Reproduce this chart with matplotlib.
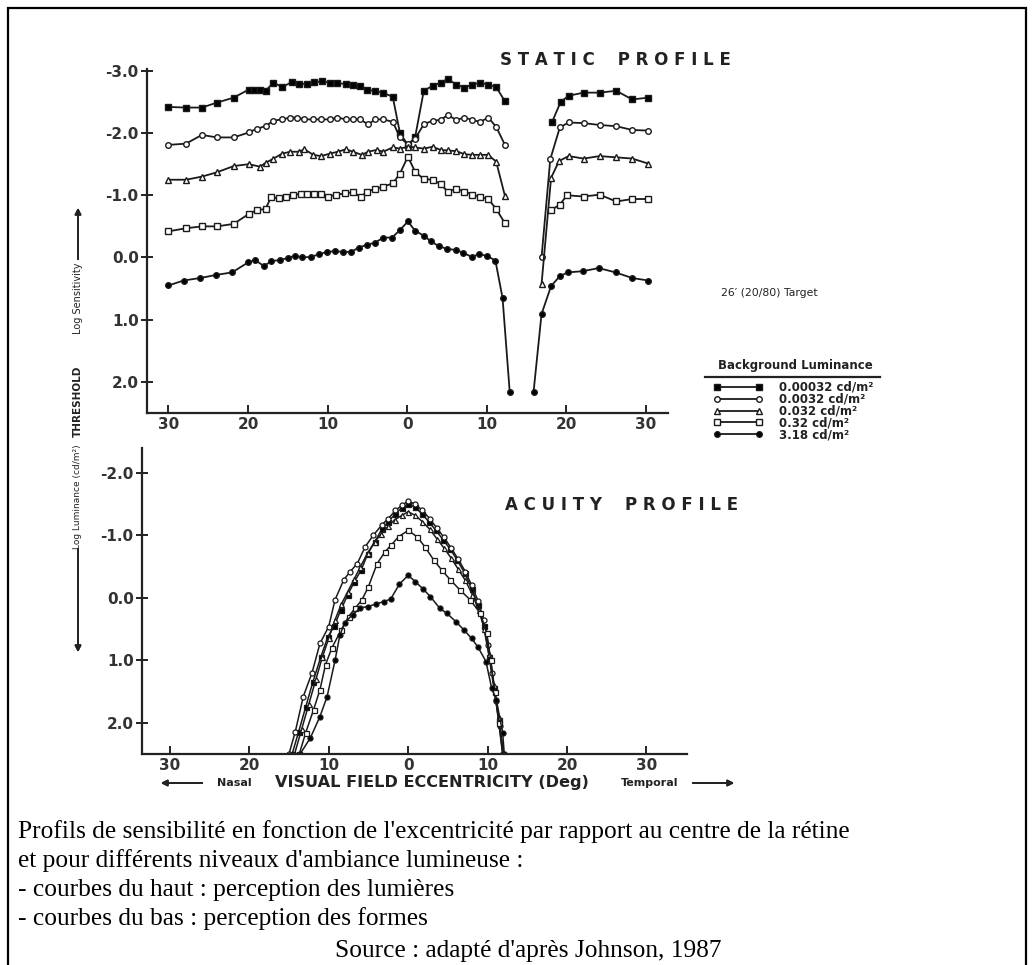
import numpy as np
import matplotlib.pyplot as plt
from matplotlib.lines import Line2D
from matplotlib.patches import Rectangle

plt.rcParams['axes.unicode_minus'] = False

# ---- STATIC PROFILE (top) : nasal side is negative, temporal positive ----
# background luminance 0.00032 cd/m2 (filled squares)
s1_x = [-30.0, -27.8, -25.8, -23.9, -21.8, -19.9, -19.3, -18.5, -17.8, -16.8, -15.7, -14.5, -13.6,
        -12.6, -11.7, -10.7, -9.7, -8.8, -7.7, -6.8, -5.9, -5.0, -4.0, -3.0, -1.8, -0.9, 0.1, 1.0,
        2.1, 3.2, 4.2, 5.1, 6.2, 7.2, 8.2, 9.2, 10.2, 11.2, 12.3]
s1_y = [-2.42, -2.41, -2.41, -2.49, -2.57, -2.70, -2.70, -2.70, -2.68, -2.81, -2.74, -2.82, -2.79,
        -2.79, -2.82, -2.83, -2.81, -2.80, -2.79, -2.77, -2.76, -2.70, -2.67, -2.65, -2.58, -2.00,
        -1.81, -1.93, -2.68, -2.76, -2.81, -2.87, -2.78, -2.73, -2.78, -2.81, -2.78, -2.74, -2.51]
s1_xr = [18.2, 19.3, 20.3, 22.2, 24.2, 26.3, 28.3, 30.3]
s1_yr = [-2.17, -2.50, -2.60, -2.65, -2.65, -2.68, -2.54, -2.57]

# 0.0032 cd/m2 (open circles)
s2_x = [-30.0, -27.8, -25.8, -23.9, -21.8, -19.9, -18.9, -17.8, -16.8, -15.7, -14.7, -13.8, -12.9,
        -11.8, -10.8, -9.7, -8.8, -7.7, -6.8, -5.9, -4.9, -4.0, -3.0, -1.8, -0.9, 0.1, 1.0, 2.1,
        3.2, 4.2, 5.1, 6.2, 7.2, 8.2, 9.2, 10.2, 11.2, 12.3]
s2_y = [-1.81, -1.83, -1.97, -1.93, -1.93, -2.01, -2.07, -2.11, -2.20, -2.22, -2.25, -2.25, -2.22,
        -2.22, -2.22, -2.22, -2.25, -2.22, -2.22, -2.22, -2.14, -2.22, -2.22, -2.18, -1.93, -1.82,
        -1.91, -2.14, -2.20, -2.21, -2.29, -2.21, -2.25, -2.21, -2.18, -2.25, -2.10, -1.81]
s2_xr = [16.9, 18.0, 19.2, 20.3, 22.2, 24.2, 26.3, 28.3, 30.3]
s2_yr = [0.0, -1.58, -2.09, -2.17, -2.16, -2.13, -2.11, -2.05, -2.04]

# 0.032 cd/m2 (open triangles)
s3_x = [-30.0, -27.8, -25.8, -23.9, -21.8, -19.9, -18.5, -17.8, -16.8, -15.7, -14.7, -13.6, -12.9,
        -11.8, -10.8, -9.7, -8.7, -7.7, -6.8, -5.7, -4.9, -3.8, -3.0, -1.8, -0.9, 0.1, 1.0, 2.1,
        3.2, 4.2, 5.1, 6.2, 7.2, 8.2, 9.2, 10.2, 11.2, 12.3]
s3_y = [-1.25, -1.25, -1.30, -1.37, -1.47, -1.50, -1.46, -1.52, -1.59, -1.67, -1.70, -1.70, -1.74,
        -1.65, -1.63, -1.67, -1.70, -1.74, -1.70, -1.65, -1.70, -1.73, -1.70, -1.77, -1.75, -1.78,
        -1.77, -1.75, -1.78, -1.73, -1.72, -1.71, -1.66, -1.65, -1.65, -1.65, -1.54, -0.99]
s3_xr = [16.9, 18.1, 19.1, 20.3, 22.2, 24.2, 26.3, 28.3, 30.3]
s3_yr = [0.43, -1.28, -1.55, -1.63, -1.59, -1.63, -1.61, -1.59, -1.51]

# 0.32 cd/m2 (open squares)
s4_x = [-30.0, -27.8, -25.8, -23.9, -21.8, -19.9, -18.9, -17.8, -17.1, -16.1, -15.2, -14.3, -13.4,
        -12.6, -11.7, -10.8, -9.9, -8.9, -7.8, -6.8, -5.8, -5.1, -4.0, -3.0, -1.8, -0.9, 0.1, 1.0,
        2.1, 3.2, 4.2, 5.1, 6.2, 7.2, 8.2, 9.2, 10.2, 11.2, 12.3]
s4_y = [-0.42, -0.47, -0.50, -0.50, -0.54, -0.70, -0.76, -0.78, -0.97, -0.95, -0.98, -1.01, -1.02,
        -1.02, -1.02, -1.02, -0.98, -1.01, -1.03, -1.05, -0.97, -1.06, -1.10, -1.14, -1.19, -1.35,
        -1.62, -1.38, -1.26, -1.25, -1.18, -1.06, -1.10, -1.06, -1.01, -0.97, -0.94, -0.78, -0.55]
s4_xr = [18.1, 19.2, 20.1, 22.2, 24.2, 26.3, 28.3, 30.3]
s4_yr = [-0.76, -0.85, -1.00, -0.98, -1.01, -0.90, -0.94, -0.94]

# 3.18 cd/m2 (filled circles)
s5_x = [-30.0, -28.1, -26.0, -24.0, -22.0, -20.0, -19.1, -18.0, -17.1, -16.0, -15.0, -14.1, -13.2,
        -12.1, -11.1, -10.1, -9.1, -8.0, -7.0, -6.1, -5.1, -4.0, -3.0, -1.9, -0.9, 0.1, 1.0, 2.1,
        3.0, 4.0, 5.0, 6.1, 7.0, 8.1, 9.0, 10.0, 11.1, 12.0, 12.9]
s5_y = [0.45, 0.37, 0.33, 0.28, 0.24, 0.08, 0.04, 0.14, 0.06, 0.04, 0.01, -0.03, 0.00, -0.01, -0.05,
        -0.09, -0.10, -0.09, -0.09, -0.16, -0.20, -0.24, -0.32, -0.32, -0.44, -0.58, -0.43, -0.35,
        -0.26, -0.18, -0.14, -0.12, -0.08, -0.01, -0.05, -0.03, 0.05, 0.65, 2.16]
s5_xr = [15.9, 16.9, 18.1, 19.2, 20.2, 22.1, 24.1, 26.2, 28.3, 30.3]
s5_yr = [2.16, 0.91, 0.46, 0.30, 0.24, 0.22, 0.17, 0.24, 0.33, 0.37]

# ---- ACUITY PROFILE (bottom) ----
a1_x = [-14.6, -13.8, -12.9, -12.0, -11.0, -10.1, -9.3, -8.5, -7.6, -6.8, -5.9, -5.1, -4.2, -3.3,
        -2.5, -1.6, -0.8, 0.0, 0.9, 1.7, 2.6, 3.5, 4.4, 5.3, 6.2, 7.1, 8.0, 8.8, 9.5, 10.2, 10.8,
        11.4, 12.0]
a1_y = [2.5, 2.15, 1.75, 1.35, 0.95, 0.62, 0.45, 0.2, -0.05, -0.25, -0.45, -0.7, -0.9, -1.1, -1.22,
        -1.35, -1.44, -1.50, -1.45, -1.35, -1.22, -1.08, -0.93, -0.78, -0.6, -0.4, -0.15, 0.12, 0.45,
        0.95, 1.45, 1.95, 2.5]
a2_x = [-15.0, -14.2, -13.2, -12.1, -11.1, -10.0, -9.2, -8.1, -7.3, -6.4, -5.4, -4.4, -3.3, -2.5,
        -1.6, -0.8, 0.0, 0.9, 1.8, 2.7, 3.6, 4.5, 5.4, 6.3, 7.2, 8.0, 8.8, 9.5, 10.1, 10.6, 11.1,
        11.5, 11.9]
a2_y = [2.5, 2.14, 1.58, 1.2, 0.73, 0.46, 0.03, -0.29, -0.42, -0.55, -0.82, -1.0, -1.17, -1.27,
        -1.4, -1.48, -1.55, -1.5, -1.4, -1.27, -1.12, -0.97, -0.8, -0.62, -0.42, -0.2, 0.05, 0.35,
        0.75, 1.2, 1.65, 2.05, 2.5]
a3_x = [-14.3, -13.4, -12.5, -11.6, -10.8, -10.0, -9.2, -8.4, -7.6, -6.8, -6.0, -5.1, -4.2, -3.4,
        -2.5, -1.7, -0.8, 0.0, 0.9, 1.8, 2.7, 3.6, 4.5, 5.4, 6.3, 7.2, 8.1, 8.9, 9.6, 10.2, 10.8,
        11.4, 12.0]
a3_y = [2.5, 2.1, 1.7, 1.3, 0.95, 0.65, 0.35, 0.1, -0.1, -0.3, -0.5, -0.72, -0.9, -1.02, -1.15,
        -1.25, -1.32, -1.38, -1.32, -1.22, -1.1, -0.95, -0.8, -0.64, -0.46, -0.28, -0.05, 0.2, 0.5,
        0.9, 1.4, 1.9, 2.5]
a4_x = [-13.7, -12.9, -11.9, -11.1, -10.4, -9.6, -8.4, -7.5, -6.7, -5.8, -5.0, -3.9, -2.9, -2.1,
        -1.2, 0.0, 1.1, 2.1, 3.2, 4.2, 5.3, 6.5, 7.8, 9.1, 9.9, 10.4, 10.9, 11.4, 11.9]
a4_y = [2.5, 2.16, 1.79, 1.47, 1.07, 0.8, 0.51, 0.3, 0.17, 0.03, -0.18, -0.55, -0.74, -0.85, -0.98,
        -1.08, -0.98, -0.82, -0.61, -0.45, -0.29, -0.13, 0.03, 0.25, 0.57, 1.0, 1.5, 2.0, 2.5]
a5_x = [-13.6, -12.3, -11.1, -10.2, -9.2, -8.6, -8.0, -7.0, -6.0, -5.1, -4.1, -3.1, -2.2, -1.1, 0.0,
        0.9, 1.9, 2.8, 4.0, 4.9, 6.0, 7.0, 8.0, 8.8, 9.8, 10.5, 11.1, 11.9, 12.1]
a5_y = [2.5, 2.24, 1.9, 1.58, 1.0, 0.6, 0.4, 0.27, 0.16, 0.14, 0.1, 0.06, 0.02, -0.22, -0.36, -0.26,
        -0.14, -0.02, 0.17, 0.25, 0.38, 0.51, 0.65, 0.79, 1.02, 1.44, 1.63, 2.16, 2.5]

lum_labels = ["0.00032 cd/m²", "0.0032 cd/m²", "0.032 cd/m²", "0.32 cd/m²", "3.18 cd/m²"]
y_ticks = [-3.0, -2.0, -1.0, 0.0, 1.0, 2.0]
x_ticks = [-30, -20, -10, 0, 10, 20, 30]

caption = ["Profils de sensibilité en fonction de l'excentricité par rapport au centre de la rétine",
           "et pour différents niveaux d'ambiance lumineuse :",
           "- courbes du haut : perception des lumières",
           "- courbes du bas : perception des formes"]
source = "Source : adapté d'après Johnson, 1987"

# marker style per luminance
styles = [dict(marker='s', mfc='black'), dict(marker='o', mfc='white'),
          dict(marker='^', mfc='white'), dict(marker='s', mfc='white'),
          dict(marker='o', mfc='black')]

W, H = 1034, 965
fig = plt.figure(figsize=(W / 100, H / 100), dpi=100)

def px(x0, y0, x1, y1):
    return [x0 / W, 1 - y1 / H, (x1 - x0) / W, (y1 - y0) / H]

ax1 = fig.add_axes(px(147, 69, 668, 413))
ax2 = fig.add_axes(px(142, 448, 687, 754))

def style_axis(ax, xlim, ylim):
    ax.set_xlim(*xlim)
    ax.set_ylim(*ylim)
    for s in ['top', 'right']:
        ax.spines[s].set_visible(False)
    for s in ['left', 'bottom']:
        ax.spines[s].set_linewidth(1.6)
        ax.spines[s].set_color('#222222')
    ax.set_yticks(y_ticks[1:] if ylim[1] > -3 else y_ticks)
    ax.set_yticklabels([f"{v:.1f}" for v in ax.get_yticks()])
    ax.set_xticks(x_ticks)
    ax.set_xticklabels([str(abs(v)) for v in x_ticks])
    ax.tick_params(axis='y', direction='inout', length=8, width=1.4, colors='#222222',
                   labelsize=11, pad=2)
    ax.tick_params(axis='x', direction='in', length=6, width=1.4, colors='#222222',
                   labelsize=11, pad=3)
    for lab in ax.get_xticklabels() + ax.get_yticklabels():
        lab.set_fontweight('bold')
        lab.set_color('#333333')

top_series = [(s1_x, s1_y, s1_xr, s1_yr), (s2_x, s2_y, s2_xr, s2_yr), (s3_x, s3_y, s3_xr, s3_yr),
              (s4_x, s4_y, s4_xr, s4_yr), (s5_x, s5_y, s5_xr, s5_yr)]
handles = []
for (xl, yl, xr, yr), st in zip(top_series, styles):
    kw = dict(color='#1a1a1a', lw=1.3, ms=4, mec='#1a1a1a', mew=1.0, **st)
    h, = ax1.plot(xl, yl, **kw)
    ax1.plot(xr, yr, **kw)
    handles.append(h)
style_axis(ax1, (-32.7, 32.8), (2.5, -3.03))

acuity = [(a1_x, a1_y), (a2_x, a2_y), (a3_x, a3_y), (a4_x, a4_y), (a5_x, a5_y)]
for (xa, ya), st in zip(acuity, styles):
    ax2.plot(xa, ya, color='#1a1a1a', lw=1.1, ms=3.6, mec='#1a1a1a', mew=0.9, **st)
style_axis(ax2, (-33.5, 35.1), (2.5, -2.4))

def fx(x):
    return x / W

def fy(y):
    return 1 - y / H

# panel titles
fig.text(fx(615), fy(60), "S T A T I C    P R O F I L E", ha='center', va='center',
         fontsize=12, fontweight='bold', color='#222222')
fig.text(fx(622), fy(505), "A C U I T Y    P R O F I L E", ha='center', va='center',
         fontsize=12, fontweight='bold', color='#222222')
fig.text(fx(769), fy(293), "26′ (20/80) Target", ha='center', va='center', fontsize=7.8,
         color='#222222')

# legend
fig.text(fx(795), fy(365), "Background Luminance", ha='center', va='center', fontsize=8.5,
         fontweight='bold', color='#222222')
fig.add_artist(Line2D([fx(705), fx(880)], [fy(377), fy(377)], color='#222222', lw=1.6))
leg = fig.legend(handles, lum_labels, loc='upper left', bbox_to_anchor=(fx(713), fy(381)),
                 frameon=False, fontsize=8.5, handlelength=4.2, handletextpad=1.4,
                 labelspacing=-0.1, borderpad=0, borderaxespad=0, numpoints=2)
for t in leg.get_texts():
    t.set_fontweight('bold')
    t.set_color('#222222')

# y axis legend (left)
xl = fx(78)
fig.text(xl, fy(298), "Log Sensitivity", rotation=90, ha='center', va='center', fontsize=7,
         color='#222222')
fig.text(xl, fy(401), "THRESHOLD", rotation=90, ha='center', va='center', fontsize=7.5,
         fontweight='bold', color='#222222')
fig.text(xl, fy(497), "Log Luminance (cd/m²)", rotation=90, ha='center', va='center', fontsize=6.5,
         color='#222222')
arrow = dict(arrowstyle='-|>', color='#222222', lw=1.3, mutation_scale=9)
fig.add_artist(plt.annotate("", xy=(xl, fy(205)), xytext=(xl, fy(262)),
                            xycoords='figure fraction', arrowprops=arrow))
fig.add_artist(plt.annotate("", xy=(xl, fy(655)), xytext=(xl, fy(546)),
                            xycoords='figure fraction', arrowprops=arrow))

# x axis legend (bottom)
fig.text(fx(234), fy(783), "Nasal", ha='center', va='center', fontsize=8, fontweight='bold',
         color='#222222')
fig.text(fx(432), fy(783), "VISUAL FIELD ECCENTRICITY (Deg)", ha='center', va='center',
         fontsize=11.6, fontweight='bold', color='#222222')
fig.text(fx(650), fy(783), "Temporal", ha='center', va='center', fontsize=8, fontweight='bold',
         color='#222222')
fig.add_artist(plt.annotate("", xy=(fx(158), fy(783)), xytext=(fx(205), fy(783)),
                            xycoords='figure fraction', arrowprops=arrow))
fig.add_artist(plt.annotate("", xy=(fx(737), fy(783)), xytext=(fx(690), fy(783)),
                            xycoords='figure fraction', arrowprops=arrow))

# caption below the chart
line_y = [832, 861, 890, 919]
for txt, yy in zip(caption, line_y):
    fig.text(fx(18), fy(yy), txt, ha='left', va='center', fontsize=18.3,
             family='Liberation Serif', color='black')
fig.text(fx(528), fy(951), source, ha='center', va='center', fontsize=18.3,
         family='Liberation Serif', color='black')

# outer frame
fig.add_artist(Rectangle((fx(8), -0.05), fx(1026 - 8), fy(8) + 0.05, fill=False,
                         edgecolor='black', lw=1.6, transform=fig.transFigure))

fig.savefig("out.png", dpi=100)
